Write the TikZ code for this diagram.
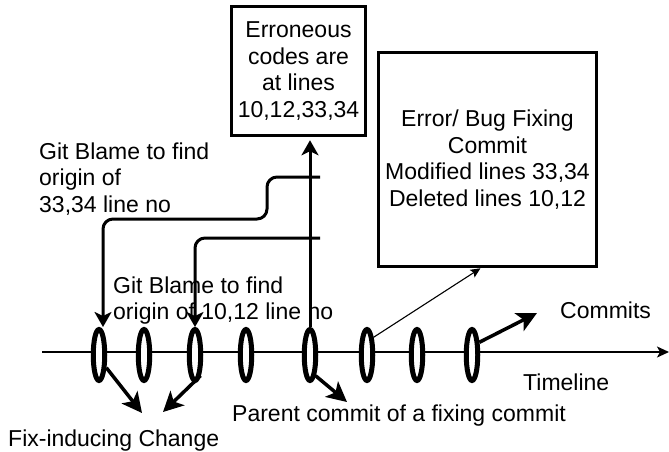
\documentclass[tikz,border=0pt]{standalone}
\usepackage{fontspec}
\setmainfont{Liberation Sans}
\usetikzlibrary{arrows.meta,shapes.geometric}
\begin{document}
\begin{tikzpicture}[x=1pt,y=-1pt,
  every node/.style={font=\fontsize{23}{26.5}\selectfont},
  commit/.style={draw, ellipse, fill=white, line width=5pt,
    minimum width=11.5pt, minimum height=51pt, inner sep=0pt},
  infobox/.style={draw, line width=3.5pt, align=center, inner sep=2pt},
  note/.style={inner sep=0pt, anchor=base west, align=left},
  timeline/.style={line width=1.6pt, -{Stealth[length=12pt,width=11pt,inset=3pt]}},
  blame/.style={line width=3pt, rounded corners=10pt,
    -{Stealth[length=15pt,width=17pt,inset=4pt]}},
  boldarrow/.style={line width=3.5pt, -{Stealth[length=20pt,width=20pt,inset=5pt]}},
  thinarrow/.style={line width=1.1pt, -{Stealth[length=10pt,width=9pt,inset=2pt]}}]

\useasboundingbox (0,0) rectangle (669,451);

% timeline axis
\coordinate (tstart) at (42,352);
\coordinate (tend) at (669,352);
\draw[timeline] (tstart) -- (tend);

% commits along the timeline
\foreach \n/\x in {1/99,2/144,3/195,4/246,5/310,6/367,7/417,8/472}
  \node[commit] (c\n) at (\x,355) {};

% information boxes
\node[infobox, minimum width=134pt, minimum height=129pt] (err) at (298.5,71)
  {Erroneous\\codes are\\at lines\\10,12,33,34};
\node[infobox, minimum width=218pt, minimum height=214pt] (fix) at (487.5,159.5)
  {Error/ Bug Fixing\\Commit\\Modified lines 33,34\\Deleted lines 10,12};

% texts (base anchor sits on the last line)
\node[note] (blameA) at (39,212) {Git Blame to find\\origin of\\33,34 line no};
\node[note] (blameB) at (113,319.5) {Git Blame to find\\origin of 10,12 line no};
\node[note] (commits) at (560,318) {Commits};
\node[note] (tlabel) at (523,390) {Timeline};
\node[note] (parent) at (232,421) {Parent commit of a fixing commit};
\node[note] (fixind) at (8,446) {Fix-inducing Change};

% parent commit points up to the erroneous lines
\draw[blame, shorten >=3pt] (c5.north) -- (c5.north |- err.south);

% git blame traces
\coordinate (sA) at (320,177);
\coordinate (kA) at (267,219);
\coordinate (sB) at (320,238);
\draw[blame] (sA) -| (kA) -| ([xshift=4pt]c1.north);
\draw[blame] (sB) -| (c3.north);

% fixing commit
\draw[thinarrow] (c6.70) -- ([xshift=-7pt]fix.south);

% short pointers
\coordinate (fA) at (142,413);
\coordinate (fB) at (163,412);
\coordinate (pA) at (347,402);
\coordinate (cA) at (537,313);
\draw[boldarrow] (c1.-60) -- (fA);
\draw[boldarrow] (c3.-75) -- (fB);
\draw[boldarrow] (c5.-75) -- (pA);
\draw[boldarrow] (c8.60) -- (cA);
\end{tikzpicture}
\end{document}
